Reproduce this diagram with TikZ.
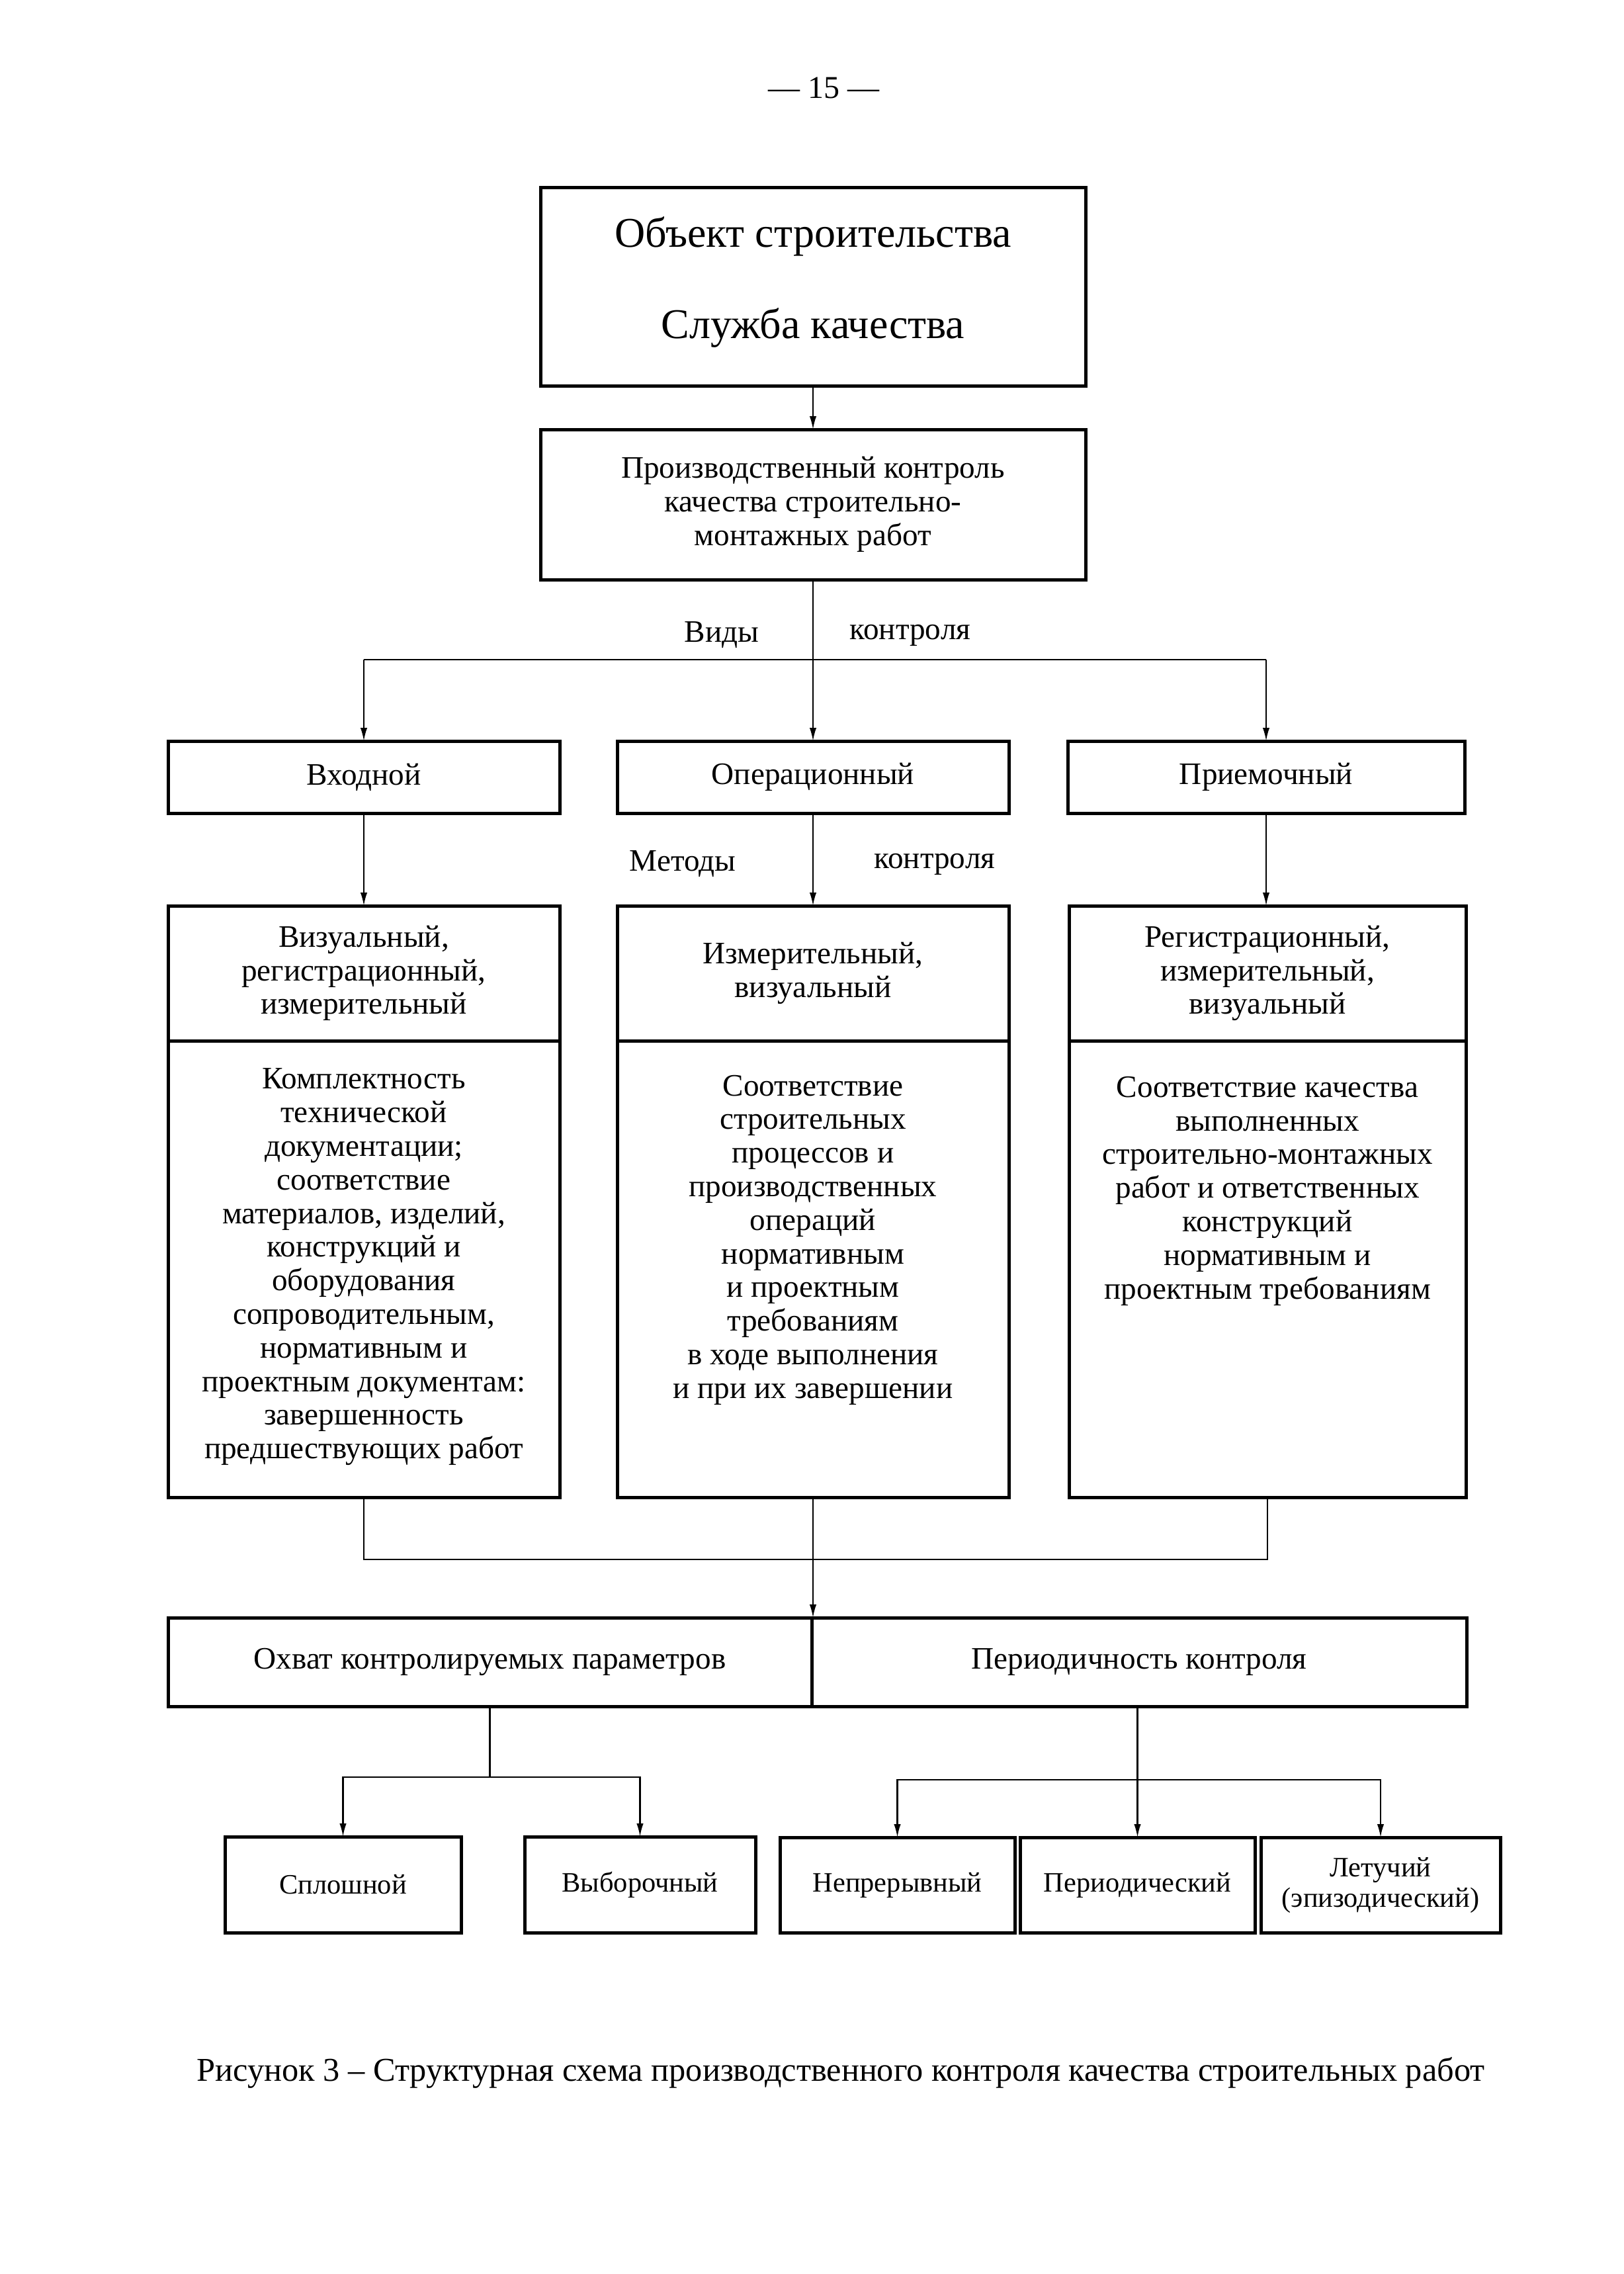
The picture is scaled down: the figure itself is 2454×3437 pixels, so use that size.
\documentclass[tikz,border=0pt]{standalone}
\usepackage{fontspec}
\setmainfont{Liberation Serif}
\usetikzlibrary{arrows.meta}
\newcommand\fbody{\fontsize{11.8}{12.7}\selectfont}
\newcommand\fsmall{\fontsize{10.6}{11.5}\selectfont}
\newcommand\fbig{\fontsize{16}{19}\selectfont}
\newcommand\mkbox[7][]{\node[box,anchor=north west,minimum width={(#4-#2)*0.25pt},minimum height={(#5-#3)*0.25pt},#1] (#6) at (#2,#3) {#7};}
\begin{document}
\begin{tikzpicture}[x=0.25pt,y=-0.25pt,
 box/.style={draw,line width=1.25pt,inner sep=0pt,outer sep=0pt,align=center,font=\fbody},
 conn/.style={line width=0.55pt},
 arr/.style={conn,-{Latex[length=5pt,width=2.6pt]}},
 lbl/.style={inner sep=0pt,font=\fbody,align=center}]
\useasboundingbox[fill=white] (0,0) rectangle (2454,3437);

\node[lbl,font=\fontsize{12}{14}\selectfont] (pg) at (1245,133) {— 15 —};

\mkbox{817}{283}{1641}{583}{obj}{}
\node[lbl,font=\fbig] (obj1) at (1229,357) {Объект строительства};
\node[lbl,font=\fbig] (obj2) at (1229,495) {Служба качества};

\mkbox{817}{649}{1641}{876}{pk}{Производственный контроль\\качества строительно-\\монтажных работ}

\mkbox{254}{1120}{846}{1229}{vh}{Входной}
\mkbox{933}{1120}{1525}{1229}{op}{Операционный}
\mkbox{1614}{1120}{2214}{1229}{pr}{Приемочный}

\mkbox{254}{1369}{846}{1573}{m1}{Визуальный,\\регистрационный,\\измерительный}
\mkbox{933}{1369}{1525}{1573}{m2}{Измерительный,\\визуальный}
\mkbox{1616}{1369}{2216}{1573}{m3}{Регистрационный,\\измерительный,\\визуальный}

\mkbox{254}{1573}{846}{2263}{d1}{}
\mkbox{933}{1573}{1525}{2263}{d2}{}
\mkbox{1616}{1573}{2216}{2263}{d3}{}

\node[lbl] (t1) at (550,1915) {Комплектность\\технической\\документации;\\соответствие\\материалов, изделий,\\конструкций и\\оборудования\\сопроводительным,\\нормативным и\\проектным документам:\\завершенность\\предшествующих работ};
\node[lbl] (t2) at (1229,1874) {Соответствие\\строительных\\процессов и\\производственных\\операций\\нормативным\\и проектным\\требованиям\\в ходе выполнения\\и при их завершении};
\node[lbl] (t3) at (1916,1800) {Соответствие качества\\выполненных\\строительно-монтажных\\работ и ответственных\\конструкций\\нормативным и\\проектным требованиям};

\mkbox{254}{2445}{1227}{2579}{ox}{Охват контролируемых параметров}
\mkbox{1227}{2445}{2217}{2579}{per}{Периодичность контроля}

\mkbox[font=\fsmall]{340}{2776}{697}{2921}{sp}{Сплошной}
\mkbox[font=\fsmall]{793}{2776}{1142}{2921}{vb}{Выборочный}
\mkbox[font=\fsmall]{1179}{2777}{1534}{2921}{np}{Непрерывный}
\mkbox[font=\fsmall]{1542}{2777}{1897}{2921}{pd}{Периодический}
\mkbox[font=\fsmall]{1906}{2777}{2268}{2921}{le}{Летучий\\(эпизодический)}

\node[lbl] (vid) at (1091,960) {Виды};
\node[lbl] (kon1) at (1376,960) {контроля};
\node[lbl] (met) at (1032,1306) {Методы};
\node[lbl] (kon2) at (1413,1306) {контроля};

\draw[arr] (obj.south) -- (pk.north);
\draw[arr] (pk.south) -- (op.north);
\coordinate (hl) at (vh.north |- 0,997);
\coordinate (hr) at (pr.north |- 0,997);
\draw[conn] (hl) -- (hr);
\draw[arr] (hl) -- (vh.north);
\draw[arr] (hr) -- (pr.north);

\draw[arr] (vh.south) -- (m1.north);
\draw[arr] (op.south) -- (m2.north);
\draw[arr] (pr.south) -- (pr.south |- m3.north);

\coordinate (jl) at (d1.south |- 0,2357);
\coordinate (jr) at (d3.south |- 0,2357);
\draw[conn] (d1.south) -- (jl) -- (jr) -- (d3.south);
\draw[arr] (d2.south) -- (d2.south |- ox.north);

\coordinate (kl) at (ox.south |- 0,2686);
\draw[conn] (ox.south) -- (kl);
\draw[arr] (kl) -| (sp.north);
\draw[arr] (kl) -| (vb.north);

\coordinate (kr) at (pd.north |- 0,2690);
\draw[arr] (pd.north |- per.south) -- (pd.north);
\draw[arr] (kr) -| (np.north);
\draw[arr] (kr) -| (le.north);

\node[lbl,font=\fontsize{12.6}{14}\selectfont] (cap) at (1271,3133) {Рисунок 3 – Структурная схема производственного контроля качества строительных работ};
\end{tikzpicture}
\end{document}
